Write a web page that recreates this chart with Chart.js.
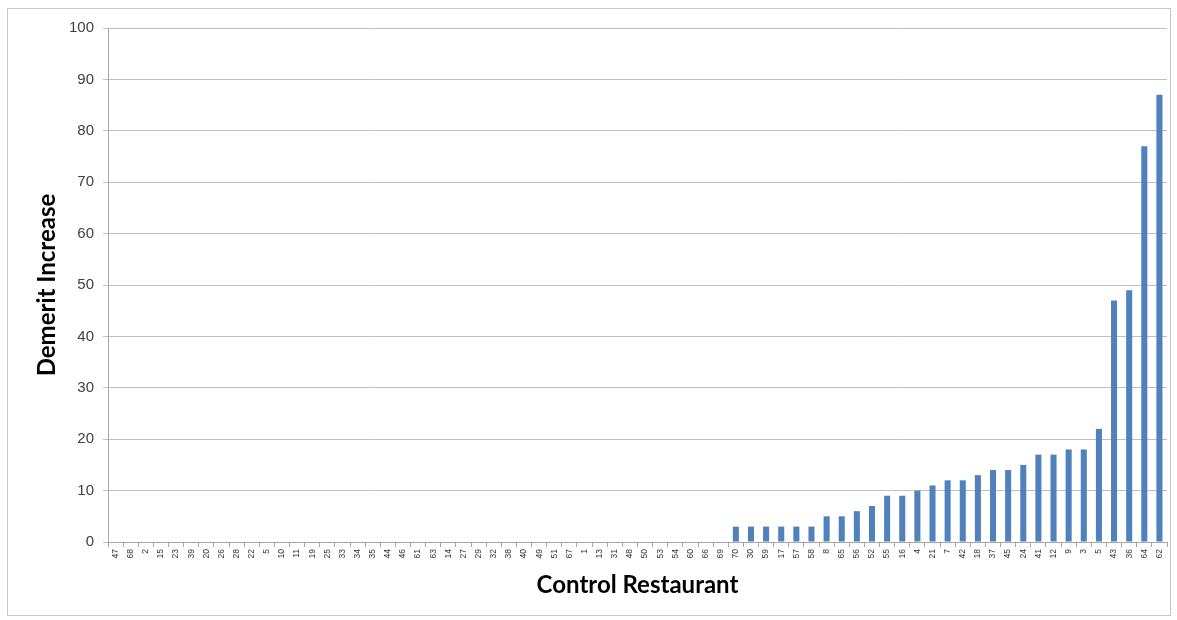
<!DOCTYPE html>
<html lang="en">
    <head>
        <meta charset="UTF-8" />
        <title>Demerit Increase by Control Restaurant</title>
        <script src="https://cdn.jsdelivr.net/npm/chart.js"></script>
        <style>
            body { margin: 0; background: #fff; }
            #wrap { position: relative; width: 1177px; height: 620px; }
            #frame {
                position: absolute; left: 7px; top: 8px; width: 1162px; height: 606px;
                border: 1px solid #c8c8c8; pointer-events: none;
            }
        </style>
    </head>
    <body>
        <div id="wrap">
            <canvas id="demeritChart" width="1177" height="620"></canvas>
            <div id="frame"></div>
        </div>

        <script>
            // restaurant ids along the x axis
            const restaurants = [
                '47', '68', '2', '15', '23', '39', '20', '26', '28', '22',
                '5', '10', '11', '19', '25', '33', '34', '35', '44', '46',
                '61', '63', '14', '27', '29', '32', '38', '40', '49', '51',
                '67', '1', '13', '31', '48', '50', '53', '54', '60', '66',
                '69', '70', '30', '59', '17', '57', '58', '8', '65', '56',
                '52', '55', '16', '4', '21', '7', '42', '18', '37', '45',
                '24', '41', '12', '9', '3', '5', '43', '36', '64', '62'
            ];

            const demeritIncrease = [
                0, 0, 0, 0, 0, 0, 0, 0, 0, 0,
                0, 0, 0, 0, 0, 0, 0, 0, 0, 0,
                0, 0, 0, 0, 0, 0, 0, 0, 0, 0,
                0, 0, 0, 0, 0, 0, 0, 0, 0, 0,
                0, 3, 3, 3, 3, 3, 3, 5, 5, 6,
                7, 9, 9, 10, 11, 12, 12, 13, 14, 14,
                15, 17, 17, 18, 18, 22, 47, 49, 77, 87
            ];

            const yTicks = [0, 10, 20, 30, 40, 50, 60, 70, 80, 90, 100];

            const ctx = document.getElementById('demeritChart').getContext('2d');
            new Chart(ctx, {
                type: 'bar',
                data: {
                    labels: restaurants,
                    datasets: [
                        {
                            label: 'Demerit Increase',
                            data: demeritIncrease,
                            backgroundColor: '#4f81bd',
                            barPercentage: 0.8,
                            categoryPercentage: 0.5
                        }
                    ]
                },
                options: {
                    responsive: false,
                    animation: false,
                    layout: { padding: { top: 28, right: 10, bottom: 18, left: 33 } },
                    plugins: {
                        legend: { display: false },
                        tooltip: { enabled: false }
                    },
                    scales: {
                        x: {
                            afterFit: (scale) => { scale.height = 60; },
                            grid: {
                                offset: true,
                                drawOnChartArea: false,
                                tickLength: 5,
                                color: '#a6a6a6'
                            },
                            border: { color: '#a6a6a6' },
                            ticks: {
                                autoSkip: false,
                                minRotation: 90,
                                maxRotation: 90,
                                padding: 2,
                                color: '#333',
                                font: { family: 'Liberation Sans', size: 8.5 }
                            },
                            title: {
                                display: true,
                                text: 'Control Restaurant',
                                color: '#000',
                                padding: { top: 0, bottom: 2 },
                                font: { family: 'Lato', size: 24, weight: 'bold' }
                            }
                        },
                        y: {
                            min: 0,
                            max: 100,
                            afterFit: (scale) => { scale.width = 75; },
                            afterBuildTicks: (scale) => {
                                scale.ticks = yTicks.map((v) => ({ value: v }));
                            },
                            grid: {
                                color: '#bfbfbf',
                                tickLength: 5
                            },
                            border: { color: '#a6a6a6' },
                            ticks: {
                                padding: 9,
                                color: '#404040',
                                font: { family: 'Liberation Sans', size: 15 }
                            },
                            title: {
                                display: true,
                                text: 'Demerit Increase',
                                color: '#000',
                                padding: { top: 0, bottom: 0 },
                                font: { family: 'Lato', size: 24, weight: 'bold' }
                            }
                        }
                    }
                }
            });
        </script>
    </body>
</html>
